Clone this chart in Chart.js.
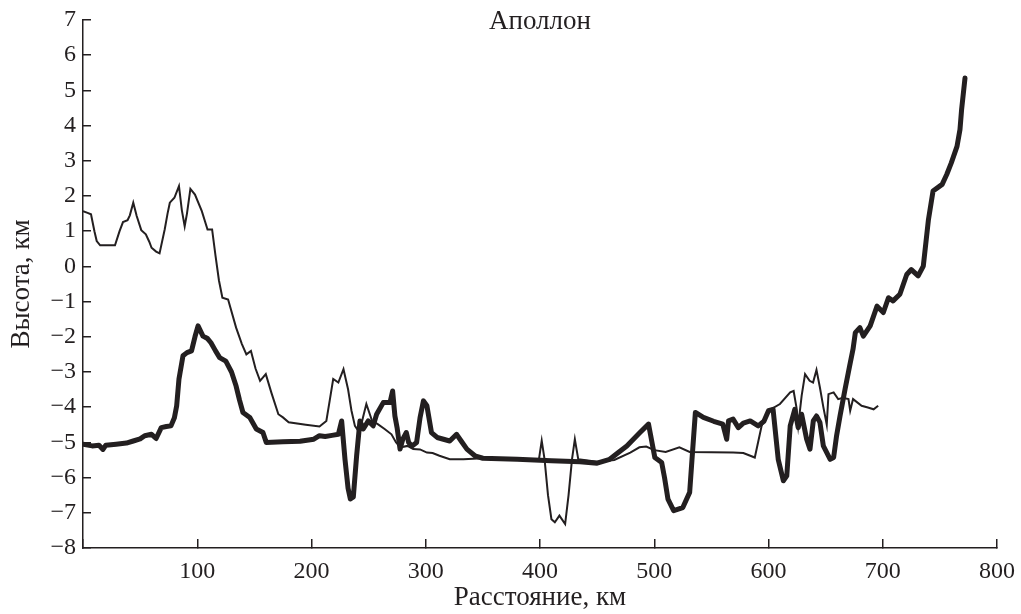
<!DOCTYPE html>
<html>
<head>
<meta charset="utf-8">
<script src="https://cdn.jsdelivr.net/npm/chart.js@4.4.1/dist/chart.umd.min.js"></script>
<style>
  body { margin: 0; background: #fff; }
</style>
</head>
<body>
<canvas id="profile" width="1021" height="614"></canvas>
<script>
// Profile values (distance, km / height, km)
var thinDist = [0, 4, 7, 10, 12, 15, 28, 32, 35, 39, 41, 44, 47, 51, 55, 58, 60, 64, 67, 71.5,
    74, 76, 80, 84, 86.5, 89, 91, 94, 98, 104, 109, 113, 116, 119, 122, 127, 134, 139, 143, 147,
    151, 155, 160, 165, 171, 175, 180, 195, 207, 213, 216, 219, 223.5, 228, 232, 235, 238, 242, 245, 248,
    253, 258, 264, 270, 274, 278, 284, 289, 295, 301, 306, 312, 321, 333, 350, 370, 390, 399, 401.5, 404,
    407, 410, 413, 417, 422, 425, 428, 430.5, 433.5, 450, 465, 479, 487, 493, 500, 510, 522, 531, 550, 569,
    578, 588, 594, 600, 610, 619, 622, 624.5, 626, 629, 632, 636, 639, 642, 645, 648, 651, 652.5, 657, 661,
    665, 670, 671.5, 674, 681.5, 687, 692, 696];
var thinHeight = [1.57, 1.52, 1.48, 1.0, 0.72, 0.6, 0.6, 1.0, 1.26, 1.31, 1.45, 1.81, 1.43, 1.03, 0.91, 0.7, 0.53, 0.42, 0.37, 1.05,
    1.5, 1.81, 1.95, 2.28, 1.6, 1.14, 1.5, 2.2, 2.04, 1.57, 1.05, 1.05, 0.3, -0.4, -0.89, -0.94, -1.74, -2.2, -2.5, -2.4,
    -2.9, -3.25, -3.06, -3.6, -4.2, -4.29, -4.43, -4.5, -4.55, -4.39, -3.8, -3.2, -3.3, -2.92, -3.49, -4.1, -4.53, -4.72, -4.3, -3.91,
    -4.39, -4.48, -4.62, -4.77, -5.0, -5.14, -5.1, -5.19, -5.2, -5.29, -5.3, -5.38, -5.48, -5.48, -5.45, -5.47, -5.5, -5.5, -4.95, -5.48,
    -6.5, -7.18, -7.27, -7.08, -7.32, -6.5, -5.48, -4.91, -5.48, -5.55, -5.5, -5.29, -5.14, -5.12, -5.22, -5.27, -5.14, -5.27, -5.28, -5.29,
    -5.3, -5.43, -4.53, -4.1, -3.91, -3.58, -3.54, -4.01, -4.53, -3.68, -3.06, -3.25, -3.3, -2.94, -3.44, -4.0, -4.5, -3.63, -3.58, -3.77,
    -3.73, -3.77, -4.1, -3.77, -3.96, -4.01, -4.06, -3.96];

var thickDist = [0, 8, 14, 17.5, 20, 29, 38, 44, 50, 54, 60, 64, 68.5, 73, 77, 80, 82, 84, 87.5, 91,
    95, 98, 100.7, 105, 109, 112, 116, 119.6, 125, 130, 134, 137, 140, 146, 151.7, 157.5, 160.4, 175, 190, 202,
    207, 212, 218, 223.5, 226.4, 229.3, 232, 234, 236.6, 239.5, 242.4, 245.3, 249.7, 254, 257, 262.8, 268.7, 271, 273, 275,
    277.5, 280, 283, 285, 288, 292, 295, 298, 301, 305, 310, 321, 327, 331, 336, 343, 350, 380, 410, 435,
    450, 461, 468, 476, 487.5, 495, 500.5, 506.5, 509, 512, 517, 525, 531, 533, 536, 543, 552, 560, 563.4, 565,
    569, 573.6, 578, 584, 591, 596, 600, 604, 608.5, 613, 616, 619, 623, 626, 629, 633.4, 636.3, 639.2, 642, 645,
    648, 654, 657, 659.6, 662.6, 667, 671, 674, 676, 680, 683, 689, 695, 700.5, 705, 709, 715, 721, 725, 731,
    735.5, 740, 744, 752, 756, 760, 765, 767.6, 769, 772];
var thickHeight = [-5.05, -5.1, -5.08, -5.2, -5.08, -5.05, -5.02, -4.96, -4.9, -4.81, -4.77, -4.89, -4.58, -4.55, -4.53, -4.3, -3.96, -3.2, -2.54, -2.45,
    -2.4, -2.0, -1.69, -1.98, -2.05, -2.17, -2.4, -2.59, -2.69, -3.0, -3.4, -3.8, -4.15, -4.29, -4.62, -4.72, -5.0, -4.98, -4.97, -4.91,
    -4.81, -4.83, -4.8, -4.77, -4.39, -5.48, -6.3, -6.61, -6.55, -5.38, -4.39, -4.62, -4.39, -4.53, -4.2, -3.87, -3.87, -3.54, -4.25, -4.6,
    -5.19, -4.9, -4.72, -5.0, -5.1, -5.0, -4.3, -3.82, -3.96, -4.72, -4.86, -4.96, -4.77, -4.96, -5.19, -5.38, -5.45, -5.48, -5.52, -5.55,
    -5.59, -5.48, -5.3, -5.1, -4.72, -4.48, -5.43, -5.57, -6.0, -6.61, -6.94, -6.85, -6.42, -5.5, -4.15, -4.29, -4.4, -4.48, -4.91, -4.39,
    -4.34, -4.58, -4.45, -4.39, -4.53, -4.4, -4.1, -4.06, -5.48, -6.09, -5.95, -4.53, -4.06, -4.58, -4.2, -4.91, -5.19, -4.39, -4.25, -4.43,
    -5.1, -5.48, -5.43, -4.81, -4.25, -3.49, -2.83, -2.35, -1.88, -1.74, -1.98, -1.69, -1.13, -1.31, -0.89, -0.98, -0.79, -0.23, -0.09, -0.27,
    0.01, 1.33, 2.14, 2.33, 2.61, 2.94, 3.41, 3.89, 4.45, 5.35];

var chartTitle = 'Аполлон';
var xTitle = 'Расстояние, км';
var yTitle = 'Высота, км';

var ink = '#231f20';
var serif = "'Liberation Serif', 'DejaVu Serif', serif";

function toPoints(xs, ys) {
    return xs.map(function(x, i) { return { x: x, y: ys[i] }; });
}

// fixed axis boxes, no extra room for overflowing labels
function fixBox(size) {
    return function(scale) {
        if (scale.isHorizontal()) scale.height = size; else scale.width = size;
        scale.paddingTop = scale.paddingBottom = 0;
        scale.paddingLeft = scale.paddingRight = 0;
    };
}

// Chart title sits inside the plot, y title is drawn by hand
var textPlugin = {
    id: 'profileText',
    afterDraw: function(chart) {
        var ctx = chart.ctx, area = chart.chartArea;
        ctx.save();
        ctx.fillStyle = ink;
        ctx.font = '27px ' + serif;
        ctx.textAlign = 'center';
        ctx.textBaseline = 'middle';
        ctx.fillText(chartTitle, (area.left + area.right) / 2, area.top + 2);
        ctx.translate(22, (area.top + area.bottom) / 2);
        ctx.rotate(-Math.PI / 2);
        ctx.fillText(yTitle, 0, 0);
        ctx.restore();
    }
};

new Chart(document.getElementById('profile'), {
    type: 'line',
    data: {
        datasets: [{
            data: toPoints(thinDist, thinHeight),
            borderColor: ink,
            borderWidth: 2,
            pointRadius: 0,
            tension: 0
        }, {
            data: toPoints(thickDist, thickHeight),
            borderColor: ink,
            borderWidth: 5,
            borderJoinStyle: 'round',
            borderCapStyle: 'round',
            pointRadius: 0,
            tension: 0
        }]
    },
    options: {
        responsive: false,
        animation: false,
        layout: { padding: { top: 20, right: 24, left: 0, bottom: 0 } },
        plugins: {
            legend: { display: false },
            tooltip: { enabled: false }
        },
        scales: {
            x: {
                type: 'linear',
                min: 0,
                max: 800,
                afterFit: fixBox(66),
                border: { display: true, color: ink, width: 1.5 },
                grid: { drawOnChartArea: false, color: ink, lineWidth: 1.5, tickLength: -9 },
                ticks: {
                    stepSize: 100,
                    padding: 18,
                    color: ink,
                    font: { family: serif, size: 24 },
                    maxRotation: 0,
                    callback: function(v) { return v === 0 ? '' : String(v); }
                },
                title: {
                    display: true,
                    text: xTitle,
                    color: ink,
                    font: { family: serif, size: 27 },
                    padding: 0
                }
            },
            y: {
                min: -8,
                max: 7,
                afterFit: fixBox(83),
                border: { display: true, color: ink, width: 1.5 },
                grid: { drawOnChartArea: false, color: ink, lineWidth: 1.5, tickLength: -8 },
                ticks: {
                    stepSize: 1,
                    padding: 15,
                    color: ink,
                    font: { family: serif, size: 24 },
                    callback: function(v) { return v < 0 ? '\u2212' + Math.abs(v) : String(v); }
                }
            }
        }
    },
    plugins: [textPlugin]
});
</script>
</body>
</html>
